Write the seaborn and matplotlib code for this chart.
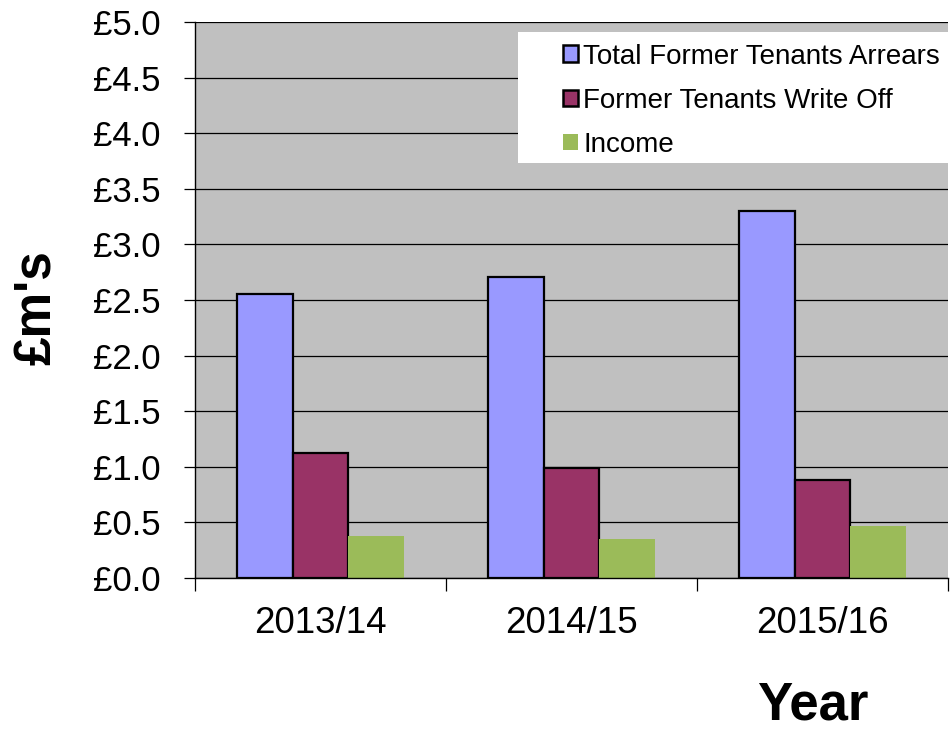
import numpy as np
import pandas as pd
import matplotlib
matplotlib.use("Agg")
import matplotlib.pyplot as plt
import seaborn as sns
from matplotlib.patches import Rectangle
from matplotlib.ticker import FuncFormatter, FixedLocator, MultipleLocator

years = ["2013/14", "2014/15", "2015/16"]
series = ["Total Former Tenants Arrears", "Former Tenants Write Off", "Income"]
arrears = [2.55, 2.71, 3.30]
write_off = [1.12, 0.99, 0.88]
income = [0.38, 0.35, 0.47]
colors = ["#9999FF", "#993366", "#9BBB59"]

df = pd.DataFrame({
    "year": years * 3,
    "series": [s for s in series for _ in years],
    "value": arrears + write_off + income,
})

sns.set_style("white")
plt.rcParams["font.family"] = ["Liberation Sans", "DejaVu Sans"]
plt.rcParams.update({"text.color": "black", "axes.labelcolor": "black",
                     "xtick.color": "black", "ytick.color": "black"})

fig = plt.figure(figsize=(9.5, 7.29), dpi=100)
ax = fig.add_axes([195 / 950, 1 - 578 / 729, 753 / 950, 556 / 729])
ax.set_facecolor("#C0C0C0")

sns.barplot(data=df, x="year", y="value", hue="series", order=years,
            hue_order=series, palette=colors, width=0.667, saturation=1,
            legend=False, ax=ax)

# black outlines on the first two series only
for cont, ec in zip(ax.containers, ["black", "black", "none"]):
    for bar in cont:
        bar.set_edgecolor(ec)
        bar.set_linewidth(1.6 if ec != "none" else 0)

ax.set_ylim(0, 5)
ax.set_xlim(-0.5, 2.5)
ax.yaxis.set_major_locator(MultipleLocator(0.5))
ax.yaxis.set_major_formatter(FuncFormatter(lambda v, p: f"£{v:.1f}"))
ax.grid(axis="y", color="black", linewidth=0.9)
ax.set_axisbelow(True)

ax.xaxis.set_minor_locator(FixedLocator([-0.5, 0.5, 1.5, 2.5]))
ax.tick_params(axis="x", which="major", length=0, pad=20, labelsize=26.5)
ax.tick_params(axis="x", which="minor", length=9, width=0.9, color="black",
               direction="out", bottom=True)
ax.tick_params(axis="y", length=8, width=0.9, color="black", direction="out",
               left=True, pad=17, labelsize=25)

for side in ["top", "right"]:
    ax.spines[side].set_visible(False)
for side in ["left", "bottom"]:
    ax.spines[side].set_color("black")
    ax.spines[side].set_linewidth(1.0)

ax.set_xlabel("Year", fontsize=38, fontweight="bold")
ax.xaxis.set_label_coords(0.82, -0.184)
ax.set_ylabel("£m's", fontsize=37, fontweight="bold")
ax.yaxis.set_label_coords(-0.176, 0.487)

# white legend panel
ax.add_patch(Rectangle((0.429, 0.746), 0.58, 0.236, transform=ax.transAxes,
                       facecolor="white", edgecolor="none", zorder=4.5,
                       clip_on=False))
leg = ax.legend(ax.containers, series, loc="upper left",
                bbox_to_anchor=(0.4887, 0.961), borderaxespad=0, borderpad=0,
                fontsize=20, frameon=False,
                handlelength=0.55, handleheight=0.55, handletextpad=0.18,
                labelspacing=0.65)
leg.set_zorder(5)
for h in leg.legend_handles:
    if h.get_edgecolor()[3] > 0:
        h.set_linewidth(1.8)

fig.savefig("out.png", dpi=100)
